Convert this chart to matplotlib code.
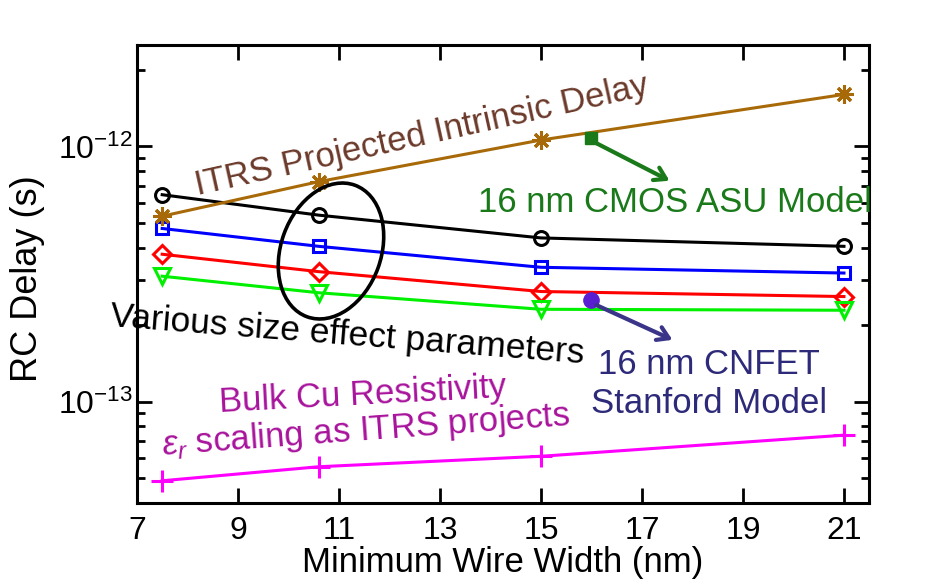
import matplotlib
matplotlib.use("Agg")
import matplotlib.pyplot as plt
from matplotlib.patches import Ellipse, FancyArrowPatch
from matplotlib.ticker import NullFormatter

plt.rcParams['font.family'] = ['Liberation Sans', 'DejaVu Sans']
plt.rcParams['mathtext.fontset'] = 'custom'
plt.rcParams['mathtext.rm'] = 'Liberation Sans'
plt.rcParams['mathtext.it'] = 'Liberation Sans:italic'

# wire widths (nm)
width_nm = [7.5, 10.6, 15, 21]

# RC delay (s)
itrs_delay = [5.33e-13, 7.28e-13, 1.06e-12, 1.60e-12]
size_black = [6.47e-13, 5.38e-13, 4.38e-13, 4.06e-13]
size_blue = [4.77e-13, 4.06e-13, 3.36e-13, 3.19e-13]
size_red = [3.78e-13, 3.23e-13, 2.70e-13, 2.58e-13]
size_green = [3.10e-13, 2.67e-13, 2.30e-13, 2.28e-13]
bulk_cu = [4.89e-14, 5.55e-14, 6.10e-14, 7.38e-14]

# single model points
cmos_asu = (16, 1.08e-12)
cnfet_stanford = (16, 2.50e-13)

xticks = [7, 9, 11, 13, 15, 17, 19, 21]
yticks = [1e-13, 1e-12]
ytick_labels = [r'$10^{-13}$', r'$10^{-12}$']

fig = plt.figure(figsize=(9.51, 5.82), dpi=100)
ax = fig.add_axes([0.144, 0.1357, 0.770, 0.787])

lw = 2.2
ax.plot(width_nm, itrs_delay, color='#a86a08', lw=lw, marker=(8, 2, 0),
        ms=13, mew=2.2, zorder=3)
ax.plot(width_nm, size_black, color='black', lw=lw, marker='o', ms=10,
        mfc='none', mew=2.2)
ax.plot(width_nm, size_blue, color='#0000ff', lw=lw, marker='s', ms=9,
        mfc='none', mew=2.2)
ax.plot(width_nm, size_red, color='#ff0000', lw=lw, marker='D', ms=9,
        mfc='none', mew=2.2)
ax.plot(width_nm, size_green, color='#00f000', lw=lw, marker='v', ms=11,
        mfc='none', mew=2.2)
ax.plot(width_nm, bulk_cu, color='#ff00ff', lw=lw, marker='+', ms=16,
        mew=2.2)

ax.plot(*cmos_asu, marker='s', color='#1a7a1a', ms=9, zorder=4)
ax.plot(*cnfet_stanford, marker='o', color='#5a1fd0', ms=11, zorder=4)

ax.set_yscale('log')
ax.set_xlim(7, 21.5)
ax.set_ylim(4e-14, 2.5e-12)
ax.set_xticks(xticks)
ax.set_xticklabels([str(t) for t in xticks])
ax.set_yticks(yticks)
ax.set_yticklabels(ytick_labels)
ax.yaxis.set_minor_formatter(NullFormatter())

for s in ax.spines.values():
    s.set_linewidth(2.2)
ax.tick_params(which='both', direction='in', top=True, right=True,
               width=2, labelsize=23)
ax.tick_params(which='major', length=11)
ax.tick_params(which='minor', length=6)
ax.tick_params(axis='x', which='major', pad=9)
ax.tick_params(axis='y', which='major', pad=3)

ax.set_xlabel('Minimum Wire Width (nm)', fontsize=25, labelpad=0)
ax.set_ylabel('RC Delay (s)', fontsize=26)
ax.yaxis.set_label_coords(-0.126, 0.49)

# annotations
ax.text(0.083, 0.672, 'ITRS Projected Intrinsic Delay', transform=ax.transAxes,
        fontsize=25, color='#6b3a2a', rotation=12.5, rotation_mode='anchor')
ax.text(0.466, 0.635, '16 nm CMOS ASU Model', transform=ax.transAxes,
        fontsize=25, color='#1a7a1a')
ax.text(-0.037, 0.386, 'Various size effect parameters', transform=ax.transAxes,
        fontsize=25.5, color='black', rotation=-4.5, rotation_mode='anchor')
ax.text(0.781, 0.282, '16 nm CNFET', transform=ax.transAxes, fontsize=25,
        color='#2e2a7a', ha='center')
ax.text(0.781, 0.197, 'Stanford Model', transform=ax.transAxes, fontsize=25,
        color='#2e2a7a', ha='center')
ax.text(0.113, 0.199, 'Bulk Cu Resistivity', transform=ax.transAxes,
        fontsize=25, color='#a8149c', rotation=3, rotation_mode='anchor')
ax.text(0.034, 0.105, r'$\varepsilon_r$ scaling as ITRS projects',
        transform=ax.transAxes, fontsize=25, color='#a8149c', rotation=4.2,
        rotation_mode='anchor')

# ellipse around size-effect curves (drawn in figure inches so it stays round)
ell = Ellipse((3.31, 3.31), 1.0, 1.40, angle=-20, fill=False, lw=2.6,
              edgecolor='black', transform=fig.dpi_scale_trans)
fig.patches.append(ell)

# arrows
arr1 = FancyArrowPatch((5.94, 5.82 - 1.42), (6.72, 5.82 - 1.82),
                       arrowstyle='->,head_length=8,head_width=5',
                       color='#1a7a1a', lw=3, transform=fig.dpi_scale_trans)
fig.patches.append(arr1)
arr2 = FancyArrowPatch((5.94, 5.82 - 3.04), (6.75, 5.82 - 3.41),
                       arrowstyle='->,head_length=8,head_width=5',
                       color='#3a3588', lw=3, transform=fig.dpi_scale_trans)
fig.patches.append(arr2)

fig.savefig('out.png', dpi=100)
